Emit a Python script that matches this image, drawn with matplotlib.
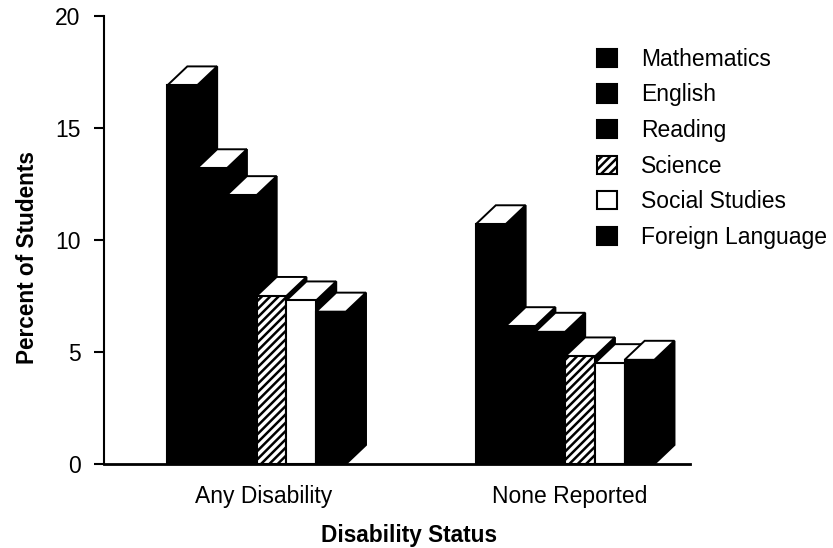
#!/usr/bin/env python3
"""
Percent of students by disability status, pseudo-3D bars.
"""

import matplotlib
matplotlib.use("Agg")
import matplotlib.pyplot as plt
from matplotlib.patches import Patch, Polygon
import numpy as np

plt.rcParams["font.family"] = ["Liberation Sans", "DejaVu Sans"]
plt.rcParams["hatch.linewidth"] = 1.8

GROUPS = ["Any Disability", "None Reported"]
SUBJECTS = ["Mathematics", "English", "Reading", "Science", "Social Studies", "Foreign Language"]
ANY_DISABILITY = [16.9, 13.2, 12.0, 7.5, 7.3, 6.8]
NONE_REPORTED = [10.7, 6.15, 5.9, 4.8, 4.5, 4.65]
Y_TICKS = [0, 5, 10, 15, 20]

# fill, hatch per subject
FILLS = ["black", "black", "black", "white", "white", "black"]
HATCHES = [None, None, None, "////", None, None]

BAR_W = 0.0965
DEPTH_X = 0.065
DEPTH_Y = 0.85


def draw_bar(ax, x, v, fill, hatch):
    # side face first, next bar's front covers it
    side = [(x + BAR_W, 0), (x + BAR_W + DEPTH_X, DEPTH_Y),
            (x + BAR_W + DEPTH_X, v + DEPTH_Y), (x + BAR_W, v)]
    ax.add_patch(Polygon(side, closed=True, facecolor="black", edgecolor="black", lw=1.5))
    top = [(x, v), (x + DEPTH_X, v + DEPTH_Y),
           (x + BAR_W + DEPTH_X, v + DEPTH_Y), (x + BAR_W, v)]
    ax.add_patch(Polygon(top, closed=True, facecolor="white", edgecolor="black", lw=1.4))
    ax.bar(x, v, width=BAR_W, align="edge", facecolor=fill, edgecolor="black",
           linewidth=1.5, hatch=hatch)


fig = plt.figure(figsize=(8.33, 5.48), dpi=100)
ax = fig.add_axes([104 / 833, 1 - 464 / 548, (690 - 104) / 833, (464 - 16) / 548])

for g, values in enumerate([ANY_DISABILITY, NONE_REPORTED]):
    for i, v in enumerate(values):
        draw_bar(ax, g + (i - 3) * BAR_W - 0.003, v, FILLS[i], HATCHES[i])

ax.set_xlim(-0.4976, 1.402)
ax.set_ylim(0, 20)

ax.spines["top"].set_visible(False)
ax.spines["right"].set_visible(False)
ax.spines["left"].set_linewidth(1.5)
ax.spines["bottom"].set_linewidth(2)

ax.set_yticks(Y_TICKS)
ax.tick_params(axis="y", length=7, width=1.5, pad=10, labelsize=16.5)
ax.set_xticks(np.array([0.02, 1.013]))
ax.set_xticklabels(GROUPS)
ax.tick_params(axis="x", length=0, pad=15, labelsize=16.5)

ax.set_xlabel("Disability Status", fontsize=16.3, fontweight="bold")
ax.xaxis.set_label_coords((409 - 104) / 586, -(524 - 464) / 448)
ax.set_ylabel("Percent of Students", fontsize=16.3, fontweight="bold")
ax.yaxis.set_label_coords(-(104 - 39) / 586, (464 - 258) / 448)

handles = [Patch(facecolor=f, edgecolor="black", hatch=h, linewidth=1.5)
           for f, h in zip(FILLS, HATCHES)]
ax.legend(handles, SUBJECTS, loc="upper left", bbox_to_anchor=(0.842, 0.929),
          frameon=False, fontsize=16.5, handlelength=0.85, handleheight=0.85,
          handletextpad=1.05, labelspacing=0.55, borderpad=0, borderaxespad=0)

fig.savefig("out.png", dpi=100, facecolor="white")
plt.close(fig)
